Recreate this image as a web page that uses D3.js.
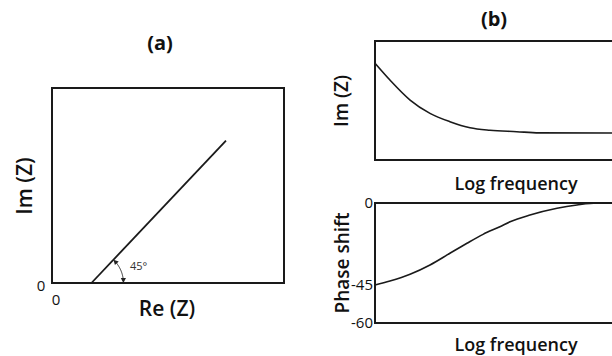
<!DOCTYPE html>
<html>
<head>
<meta charset="utf-8">
<script src="https://cdn.jsdelivr.net/npm/d3@7"></script>
<style>
  html, body { margin: 0; padding: 0; background: #fff; }
  svg { display: block; }
  text { font-family: "Open Sans", "DejaVu Sans", sans-serif; fill: #111; }
</style>
</head>
<body>
<svg id="chart" width="612" height="356"></svg>
<script>
// (a) Nyquist plot: straight Warburg line leaving the real axis at 45°
const nyquistRe = [0.17, 0.75];
const nyquistIm = [0, 0.73];

// (b) Bode plots against log frequency (normalised 0..1)
const bodeImFreq = [0, 0.063, 0.148, 0.232, 0.316, 0.401, 0.485, 0.598, 0.692, 1];
const bodeImVal  = [0.813, 0.672, 0.504, 0.392, 0.322, 0.271, 0.250, 0.238, 0.228, 0.227];

const phaseFreq = [0, 0.063, 0.148, 0.232, 0.316, 0.388, 0.456, 0.527, 0.57, 0.654, 0.768, 0.852, 0.937, 1];
const phaseVal  = [-45, -42.8, -39.1, -34.0, -27.6, -22.1, -17.2, -13.0, -10.3, -6.6, -2.9, -1.1, 0, 0];

const phaseTicks = [0, -45, -60];

const svg = d3.select("#chart");
const ink = "#1a1a1a";

// ---------- Panel (a) ----------
const ax = d3.scaleLinear().domain([0, 1]).range([52, 284]);
const ay = d3.scaleLinear().domain([0, 1]).range([283, 88]);

svg.append("rect")
  .attr("x", ax(0)).attr("y", ay(1))
  .attr("width", ax(1) - ax(0)).attr("height", ay(0) - ay(1))
  .attr("fill", "none").attr("stroke", ink).attr("stroke-width", 2);

const nyq = nyquistRe.map((r, i) => [r, nyquistIm[i]]);
svg.append("path")
  .datum(nyq)
  .attr("d", d3.line().x(d => ax(d[0])).y(d => ay(d[1])))
  .attr("fill", "none").attr("stroke", ink).attr("stroke-width", 1.8);

// angle marker between the real axis and the line
const ox = ax(nyquistRe[0]), oy = ay(nyquistIm[0]);
const ang = Math.atan2(ay(nyquistIm[0]) - ay(nyquistIm[1]), ax(nyquistRe[1]) - ax(nyquistRe[0]));
const r = 32;
const arcPts = d3.range(0, 21).map(i => {
  const t = 0.06 + (ang - 0.12) * i / 20;
  return [ox + r * Math.cos(t), oy - r * Math.sin(t)];
});
svg.append("path")
  .attr("d", d3.line()(arcPts))
  .attr("fill", "none").attr("stroke", "#333").attr("stroke-width", 1);

function arrowHead(p, dir) {
  const L = 5, W = 2.6;
  const ux = Math.cos(dir), uy = Math.sin(dir);
  const tip = [p[0] + ux * 2, p[1] + uy * 2];
  const base = [tip[0] - ux * L, tip[1] - uy * L];
  svg.append("path")
    .attr("d", d3.line()([tip, [base[0] - uy * W, base[1] + ux * W], [base[0] + uy * W, base[1] - ux * W], tip]))
    .attr("fill", "#222");
}
// tip at the axis end (pointing down) and at the line end (pointing up-left)
const tA = 0.06, tB = ang - 0.06;
arrowHead([ox + r * Math.cos(tA), oy - r * Math.sin(tA)], Math.PI / 2);
arrowHead([ox + r * Math.cos(tB), oy - r * Math.sin(tB)], Math.atan2(-Math.cos(tB), -Math.sin(tB)));

svg.append("text").attr("x", 130).attr("y", 270)
  .attr("font-size", 11).style("fill", "#333").text("45°");

svg.append("text").attr("x", 160).attr("y", 50)
  .attr("text-anchor", "middle").attr("font-size", 20).attr("font-weight", 700).text("(a)");
svg.append("text").attr("x", 167).attr("y", 316)
  .attr("text-anchor", "middle").attr("font-size", 21).attr("font-weight", 600).text("Re (Z)");
svg.append("text")
  .attr("transform", `translate(32,186) rotate(-90)`)
  .attr("text-anchor", "middle").attr("font-size", 21).attr("font-weight", 600).text("Im (Z)");
svg.append("text").attr("x", 41).attr("y", 291)
  .attr("text-anchor", "middle").attr("font-size", 15).text("0");
svg.append("text").attr("x", 56).attr("y", 305)
  .attr("text-anchor", "middle").attr("font-size", 15).text("0");

// ---------- Panel (b), top: Im(Z) ----------
const bx = d3.scaleLinear().domain([0, 1]).range([375, 612]);
const by1 = d3.scaleLinear().domain([0, 1]).range([160, 41]);

svg.append("path")
  .attr("d", `M${bx(1) + 4},${by1(1)}H${bx(0)}V${by1(0)}H${bx(1) + 4}`)
  .attr("fill", "none").attr("stroke", ink).attr("stroke-width", 2);

svg.append("path")
  .datum(bodeImFreq.map((f, i) => [f, bodeImVal[i]]))
  .attr("d", d3.line().x(d => bx(d[0])).y(d => by1(d[1])).curve(d3.curveMonotoneX))
  .attr("fill", "none").attr("stroke", ink).attr("stroke-width", 1.6);

svg.append("text").attr("x", 494).attr("y", 26)
  .attr("text-anchor", "middle").attr("font-size", 20).attr("font-weight", 700).text("(b)");
svg.append("text")
  .attr("transform", `translate(348,101) rotate(-90)`)
  .attr("text-anchor", "middle").attr("font-size", 19).attr("font-weight", 600).text("Im (Z)");
svg.append("text").attr("x", 516).attr("y", 190)
  .attr("text-anchor", "middle").attr("font-size", 18).attr("font-weight", 600).text("Log frequency");

// ---------- Panel (b), bottom: phase shift ----------
const by2 = d3.scaleLinear().domain([-60, -45, 0]).range([323, 285, 203]);

svg.append("path")
  .attr("d", `M${bx(1) + 4},${by2(0)}H${bx(0)}V${by2(-60)}H${bx(1) + 4}`)
  .attr("fill", "none").attr("stroke", ink).attr("stroke-width", 2);

svg.append("path")
  .datum(phaseFreq.map((f, i) => [f, phaseVal[i]]))
  .attr("d", d3.line().x(d => bx(d[0])).y(d => by2(d[1])).curve(d3.curveMonotoneX))
  .attr("fill", "none").attr("stroke", ink).attr("stroke-width", 1.6);

svg.selectAll(".ptick").data(phaseTicks).enter().append("text")
  .attr("class", "ptick")
  .attr("x", 373).attr("y", d => by2(d) + 5)
  .attr("text-anchor", "end").attr("font-size", 15)
  .text(d => d);

svg.append("text")
  .attr("transform", `translate(349,263) rotate(-90)`)
  .attr("text-anchor", "middle").attr("font-size", 19).attr("font-weight", 600).text("Phase shift");
svg.append("text").attr("x", 516).attr("y", 351)
  .attr("text-anchor", "middle").attr("font-size", 18).attr("font-weight", 600).text("Log frequency");
</script>
</body>
</html>
